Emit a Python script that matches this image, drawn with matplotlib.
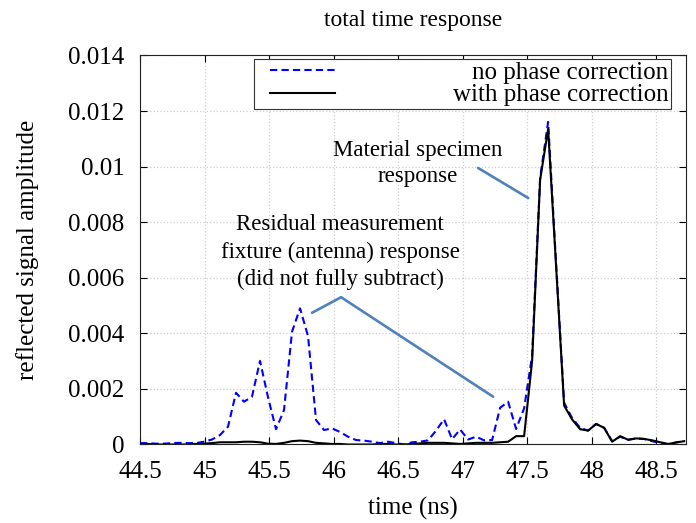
"""
Total time response: reflected signal with / without phase correction
"""
import matplotlib
matplotlib.use('Agg')
import matplotlib.pyplot as plt
from matplotlib.ticker import FuncFormatter
import numpy as np

plt.rcParams.update({
    'font.family': ['Liberation Serif', 'DejaVu Serif'],
    'font.size': 18,
    'axes.linewidth': 0.8,
    'mathtext.fontset': 'stix',
})

# ── data (sampled time response, amplitudes in units of 1e-3) ──────────
t_start = 44.5      # ns
t_step = 0.062      # ns per sample

no_corr = [0.05, 0.05, 0.03, 0.03, 0.05, 0.06, 0.05, 0.05, 0.10, 0.18,
           0.34, 0.64, 1.86, 1.54, 1.72, 3.01, 1.70, 0.55, 1.24, 4.06,
           4.90, 3.90, 0.88, 0.52, 0.58, 0.45, 0.28, 0.16, 0.14, 0.10,
           0.05, 0.10, 0.05, 0.00, 0.08, 0.10, 0.15, 0.50, 0.91, 0.19,
           0.54, 0.18, 0.28, 0.15, 0.16, 1.32, 1.54, 0.56, 1.30, 3.20,
           9.60, 11.61, 6.50, 1.50, 0.95, 0.60, 0.50, 0.74, 0.60, 0.12,
           0.28, 0.17, 0.22, 0.20, 0.12, 0.05, 0.00, 0.08, 0.12]

with_corr = [0.02, 0.02, 0.00, 0.00, 0.00, 0.00, 0.00, 0.02, 0.03, 0.05,
             0.08, 0.08, 0.08, 0.10, 0.10, 0.08, 0.03, 0.02, 0.06, 0.12,
             0.14, 0.12, 0.06, 0.04, 0.02, 0.02, 0.00, 0.00, 0.00, 0.00,
             0.02, 0.02, 0.00, 0.00, 0.02, 0.04, 0.06, 0.06, 0.06, 0.04,
             0.02, 0.04, 0.06, 0.06, 0.06, 0.08, 0.10, 0.30, 0.30, 3.00,
             9.52, 11.35, 6.40, 1.40, 0.90, 0.55, 0.50, 0.74, 0.60, 0.10,
             0.30, 0.17, 0.22, 0.20, 0.15, 0.08, 0.02, 0.07, 0.12]

series_labels = ['no phase correction', 'with phase correction']
x_ticks = [44.5, 45, 45.5, 46, 46.5, 47, 47.5, 48, 48.5]
y_ticks = [0, 0.002, 0.004, 0.006, 0.008, 0.01, 0.012, 0.014]

# callout anchors (time ns, amplitude)
specimen_text_xy = (46.655, 0.01012)
specimen_leader = [(47.12, 0.00995), (47.508, 0.00887)]
residual_text_xy = (46.05, 0.00692)
residual_hub = (46.058, 0.0053)
residual_targets = [(45.833, 0.00474), (47.236, 0.00172)]

time = t_start + t_step * np.arange(len(no_corr))
y_no = np.array(no_corr) * 1e-3
y_with = np.array(with_corr) * 1e-3

fig = plt.figure(figsize=(6.96, 5.23), dpi=100)
ax = fig.add_axes([0.2011, 0.1501, 0.7845, 0.7438])

ax.plot(time, y_no, color='blue', linestyle='--', dashes=(3.5, 2.0),
        linewidth=1.5, label=series_labels[0], zorder=3)
ax.plot(time, y_with, color='black', linewidth=1.5,
        label=series_labels[1], zorder=4)

ax.set_xlim(44.5, 48.73)
ax.set_ylim(0, 0.014)
ax.set_xticks(x_ticks)
ax.set_yticks(y_ticks)
fmt = FuncFormatter(lambda v, p: f'{v:g}')
ax.xaxis.set_major_formatter(fmt)
ax.yaxis.set_major_formatter(fmt)
ax.tick_params(direction='in', top=True, right=True, length=5, width=0.8,
               labelsize=18)
ax.tick_params(axis='x', pad=12)
ax.tick_params(axis='y', pad=11)
ax.grid(True, color='#cfcfcf', linestyle=':', linewidth=0.9)
ax.set_axisbelow(True)
for s in ax.spines.values():
    s.set_color('#222222')

ax.set_xlabel('time (ns)', fontsize=18, labelpad=10)
ax.set_ylabel('reflected signal amplitude', fontsize=18, labelpad=21)
ax.set_title('total time response', fontsize=17, pad=21)

# callouts
callout_color = '#4f81bd'
ax.text(*specimen_text_xy, 'Material specimen\nresponse', fontsize=16.5,
        ha='center', va='center', multialignment='center', linespacing=1.3)
ax.annotate('', xy=specimen_leader[1], xytext=specimen_leader[0],
            arrowprops=dict(arrowstyle='-', color=callout_color, lw=1.9,
                            shrinkA=0, shrinkB=0))
ax.text(*residual_text_xy,
        'Residual measurement\nfixture (antenna) response\n(did not fully subtract)',
        fontsize=16.5, ha='center', va='center', multialignment='center',
        linespacing=1.38)
for tgt in residual_targets:
    ax.annotate('', xy=tgt, xytext=residual_hub,
                arrowprops=dict(arrowstyle='-', color=callout_color, lw=1.9,
                                shrinkA=0, shrinkB=0))

leg = ax.legend(loc='upper right', bbox_to_anchor=(0.9725, 0.991),
                borderaxespad=0, borderpad=0.1, handlelength=2.6,
                handletextpad=5.26, labelspacing=0.0, fancybox=False,
                framealpha=1, edgecolor='#333333', fontsize=18)
leg.get_frame().set_linewidth(0.8)

# indent the legend samples a little, like the original
for h in leg.legend_handles:
    h.set_xdata(np.asarray(h.get_xdata()) + 9.5)

# right-align the legend labels
fig.canvas.draw()
r = fig.canvas.get_renderer()
texts = leg.get_texts()
widths = [t.get_window_extent(r).width for t in texts]
wmax = max(widths)
for t, w in zip(texts, widths):
    t.set_position((wmax - w, 0))

fig.savefig('out.png', dpi=100)
plt.close(fig)
